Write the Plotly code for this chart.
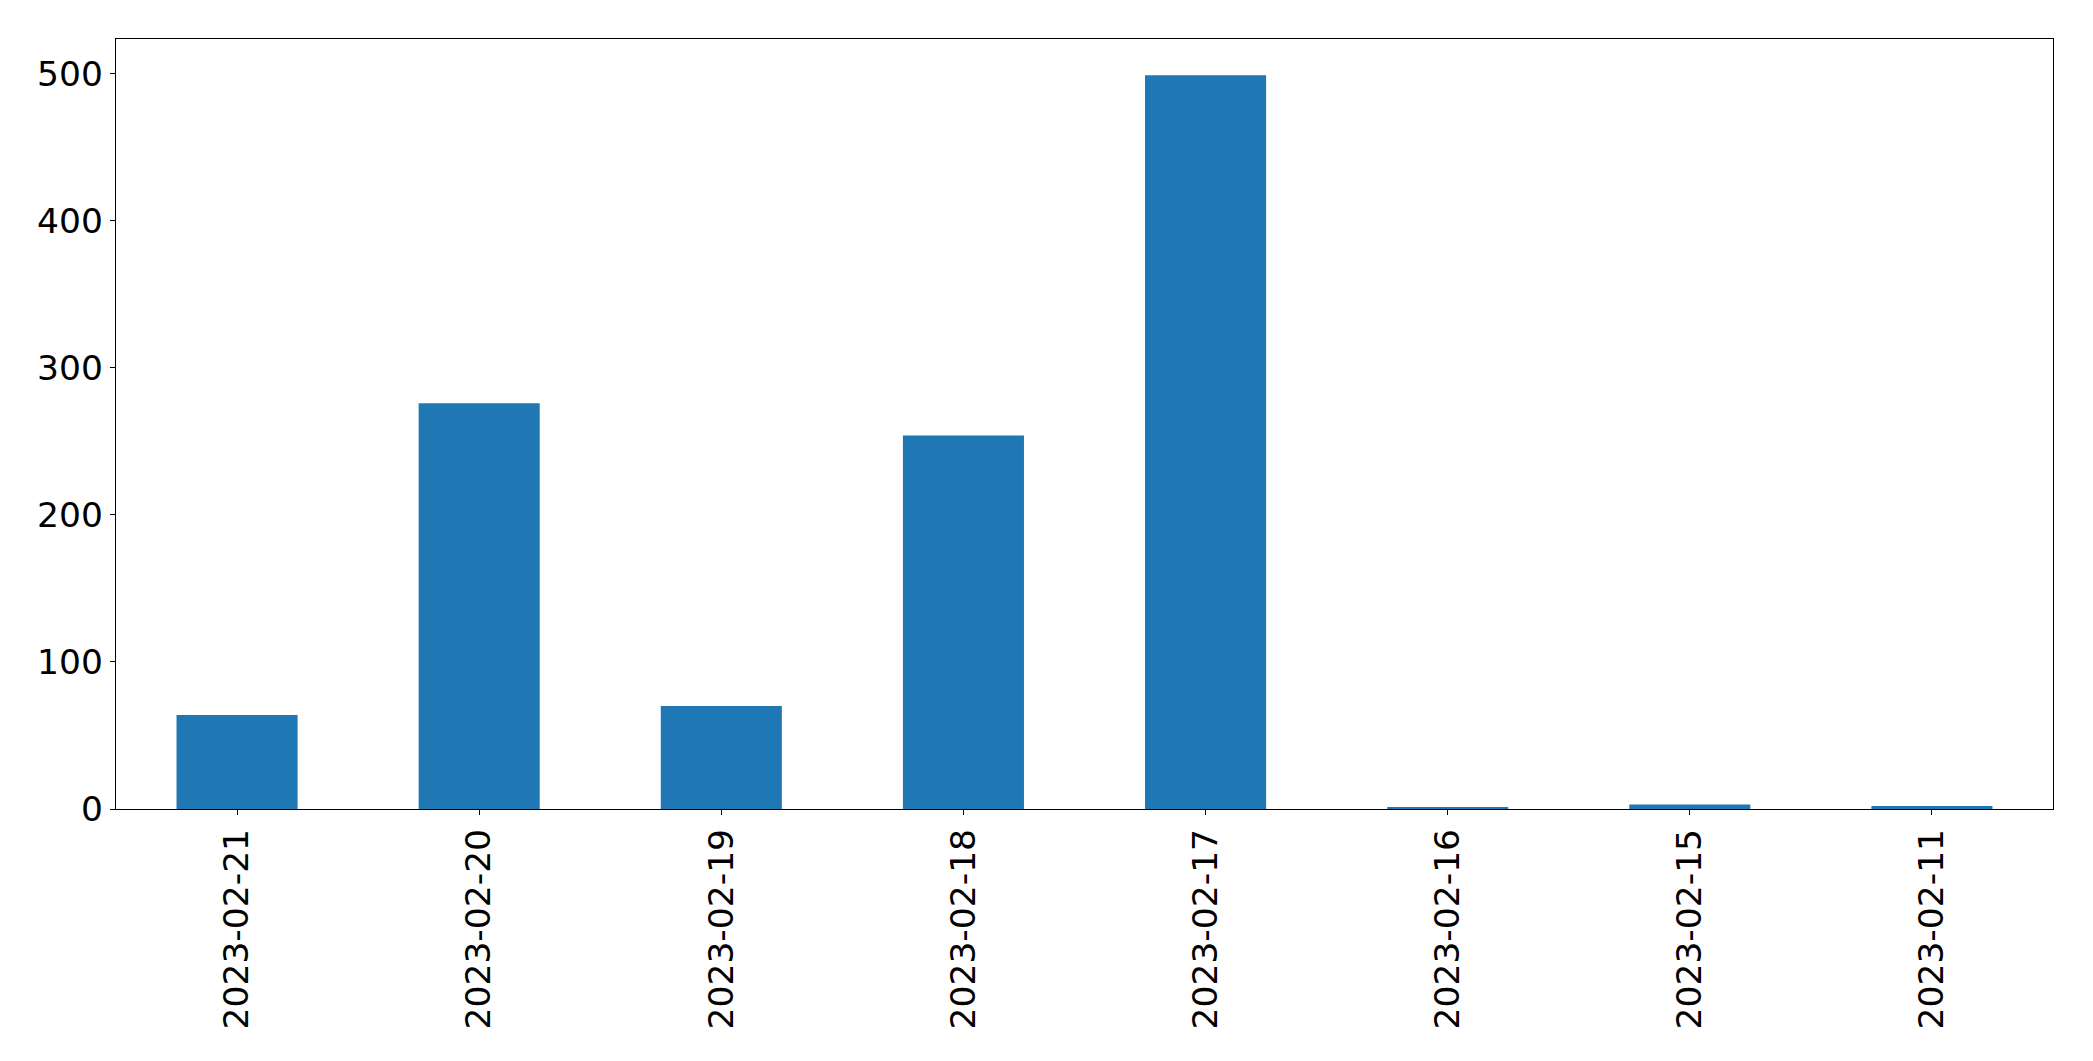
import plotly.graph_objects as go

dates = ["2023-02-21", "2023-02-20", "2023-02-19", "2023-02-18",
         "2023-02-17", "2023-02-16", "2023-02-15", "2023-02-11"]
counts = [64, 276, 70, 254, 499, 1, 3, 2]
y_ticks = [0, 100, 200, 300, 400, 500]

fig = go.Figure(go.Bar(x=dates, y=counts, width=0.5,
                       marker=dict(color="#1f77b4", line=dict(width=0))))

axis_common = dict(showline=True, linecolor="black", linewidth=1.3, mirror=True,
                   ticks="outside", ticklen=5, tickwidth=1.3, tickcolor="black",
                   showgrid=False, zeroline=False,
                   tickfont=dict(family="DejaVu Sans", size=34.5, color="black"))

fig.update_layout(
    width=2085, height=1053,
    margin=dict(l=108, r=40, t=31, b=252),
    paper_bgcolor="white", plot_bgcolor="white",
    showlegend=False,
    xaxis=dict(type="category", range=[-0.5, 7.5], tickangle=-90, **axis_common),
    yaxis=dict(range=[0, 523.7], tickvals=y_ticks, **axis_common),
)

fig.write_html("out.html")
